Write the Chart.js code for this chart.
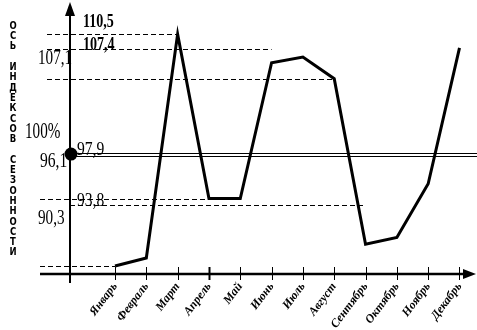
<!DOCTYPE html>
<html><head><meta charset="utf-8">
<script src="https://cdn.jsdelivr.net/npm/chart.js@4.4.0/dist/chart.umd.min.js"></script>
<style>html,body{margin:0;padding:0;background:#fff}#wrap{width:477px;height:330px;position:relative}</style>
</head><body><div id="wrap"><canvas id="c"></canvas></div>
<script>
const months = ['Январь','Февраль','Март','Апрель','Май','Июнь','Июль','Август','Сентябрь','Октябрь','Ноябрь','Декабрь'];
const seasonIndex = [90.2, 90.9, 110.5, 96.1, 96.1, 108.0, 108.5, 106.6, 92.1, 92.7, 97.4, 109.3];
const axisTitle = 'Ось индексов сезонности';
const refValues = [110.5, 109.2, 106.6, 96.1, 95.5, 90.2];
const refEndMonth = [2, 5, 7, 3, 8, 0];
const annotTexts = ['110,5', '107,4', '107,1', '100%', '97,9', '96,1', '93,8', '90,3'];
const baseValue = 100;

const refStartX = [47, 47, 47, 40, 70, 40];
const annotStyle = [
  {x:83, y:27, size:19, bold:true, sx:0.74},
  {x:83, y:50, size:19, bold:true, sx:0.74},
  {x:38, y:64, size:20, bold:false, sx:0.76},
  {x:25, y:138, size:23, bold:false, sx:0.66},
  {x:77, y:155, size:19, bold:false, sx:0.82},
  {x:40, y:167, size:20, bold:false, sx:0.78},
  {x:77, y:206, size:19, bold:false, sx:0.82},
  {x:38, y:224, size:20, bold:false, sx:0.76}
];

const deco = {
  id: 'deco',
  beforeDatasetsDraw(chart) {
    const ctx = chart.ctx, xs = chart.scales.x, ys = chart.scales.y;
    const axisY = chart.chartArea.bottom, axisX = chart.chartArea.left - 45;
    ctx.save();
    ctx.strokeStyle = '#000';
    ctx.lineWidth = 1;
    ctx.setLineDash([5, 3]);
    refValues.forEach((v, i) => {
      const py = Math.round(ys.getPixelForValue(v)) + 0.5;
      ctx.beginPath();
      ctx.moveTo(refStartX[i], py);
      ctx.lineTo(xs.getPixelForValue(refEndMonth[i]), py);
      ctx.stroke();
    });
    ctx.setLineDash([]);
    const p100 = ys.getPixelForValue(baseValue);
    [-1.5, 1.5].forEach(d => {
      ctx.beginPath();
      ctx.moveTo(axisX, Math.round(p100 + d) + 0.5);
      ctx.lineTo(477, Math.round(p100 + d) + 0.5);
      ctx.stroke();
    });
    ctx.lineWidth = 2.5;
    ctx.beginPath();
    ctx.moveTo(40, axisY);
    ctx.lineTo(466, axisY);
    ctx.stroke();
    ctx.fillStyle = '#000';
    ctx.beginPath();
    ctx.moveTo(476, axisY);
    ctx.lineTo(463, axisY - 5);
    ctx.lineTo(463, axisY + 5);
    ctx.closePath();
    ctx.fill();
    months.forEach((m, i) => {
      const px = Math.round(xs.getPixelForValue(i)) + 0.5;
      ctx.lineWidth = i === 3 ? 2 : 1;
      ctx.beginPath();
      ctx.moveTo(px, axisY - 7);
      ctx.lineTo(px, axisY + 6);
      ctx.stroke();
    });
    ctx.lineWidth = 2;
    ctx.beginPath();
    ctx.moveTo(axisX, axisY + 9);
    ctx.lineTo(axisX, 12);
    ctx.stroke();
    ctx.beginPath();
    ctx.moveTo(axisX, 2);
    ctx.lineTo(axisX - 5, 16);
    ctx.lineTo(axisX + 5, 16);
    ctx.closePath();
    ctx.fill();
    ctx.restore();
  },
  afterDatasetsDraw(chart) {
    const ctx = chart.ctx, ys = chart.scales.y;
    const axisX = chart.chartArea.left - 45;
    ctx.save();
    ctx.fillStyle = '#000';
    ctx.beginPath();
    ctx.arc(axisX + 1, ys.getPixelForValue(baseValue), 6.5, 0, Math.PI * 2);
    ctx.fill();
    ctx.textBaseline = 'alphabetic';
    annotTexts.forEach((t, i) => {
      const s = annotStyle[i];
      ctx.save();
      ctx.translate(s.x, s.y);
      ctx.scale(s.sx, 1);
      ctx.font = (s.bold ? 'bold ' : '') + s.size + 'px "Liberation Serif"';
      ctx.fillText(t, 0, 0);
      ctx.restore();
    });
    ctx.font = 'bold 10px "DejaVu Sans"';
    ctx.textAlign = 'center';
    ctx.textBaseline = 'middle';
    const chars = axisTitle.toUpperCase().split('');
    chars.forEach((c, i) => {
      ctx.save();
      ctx.translate(13, 26 + i * 10.3);
      ctx.scale(0.85, 1.1);
      ctx.fillText(c, 0, 0);
      ctx.restore();
    });
    ctx.restore();
  }
};

new Chart(document.getElementById('c'), {
  type: 'line',
  data: {
    labels: months,
    datasets: [{
      data: seasonIndex,
      borderColor: '#000',
      borderWidth: 3,
      pointRadius: 0,
      tension: 0,
      fill: false,
      clip: false
    }]
  },
  options: {
    responsive: true,
    maintainAspectRatio: false,
    animation: false,
    layout: { padding: { left: 115, right: 17, top: 17, bottom: 0 } },
    plugins: { legend: { display: false }, tooltip: { enabled: false } },
    scales: {
      x: {
        type: 'category',
        offset: false,
        grid: { display: false, drawTicks: false },
        border: { display: false },
        afterFit(scale) { scale.height = 56; },
        ticks: {
          color: '#000',
          autoSkip: false,
          maxRotation: 53,
          minRotation: 53,
          padding: 6,
          font: { family: '"Liberation Serif"', size: 12, style: 'italic', weight: 'bold' }
        }
      },
      y: { type: 'linear', min: 89.5, max: 112, display: false }
    }
  },
  plugins: [deco]
});
</script>
</body></html>
